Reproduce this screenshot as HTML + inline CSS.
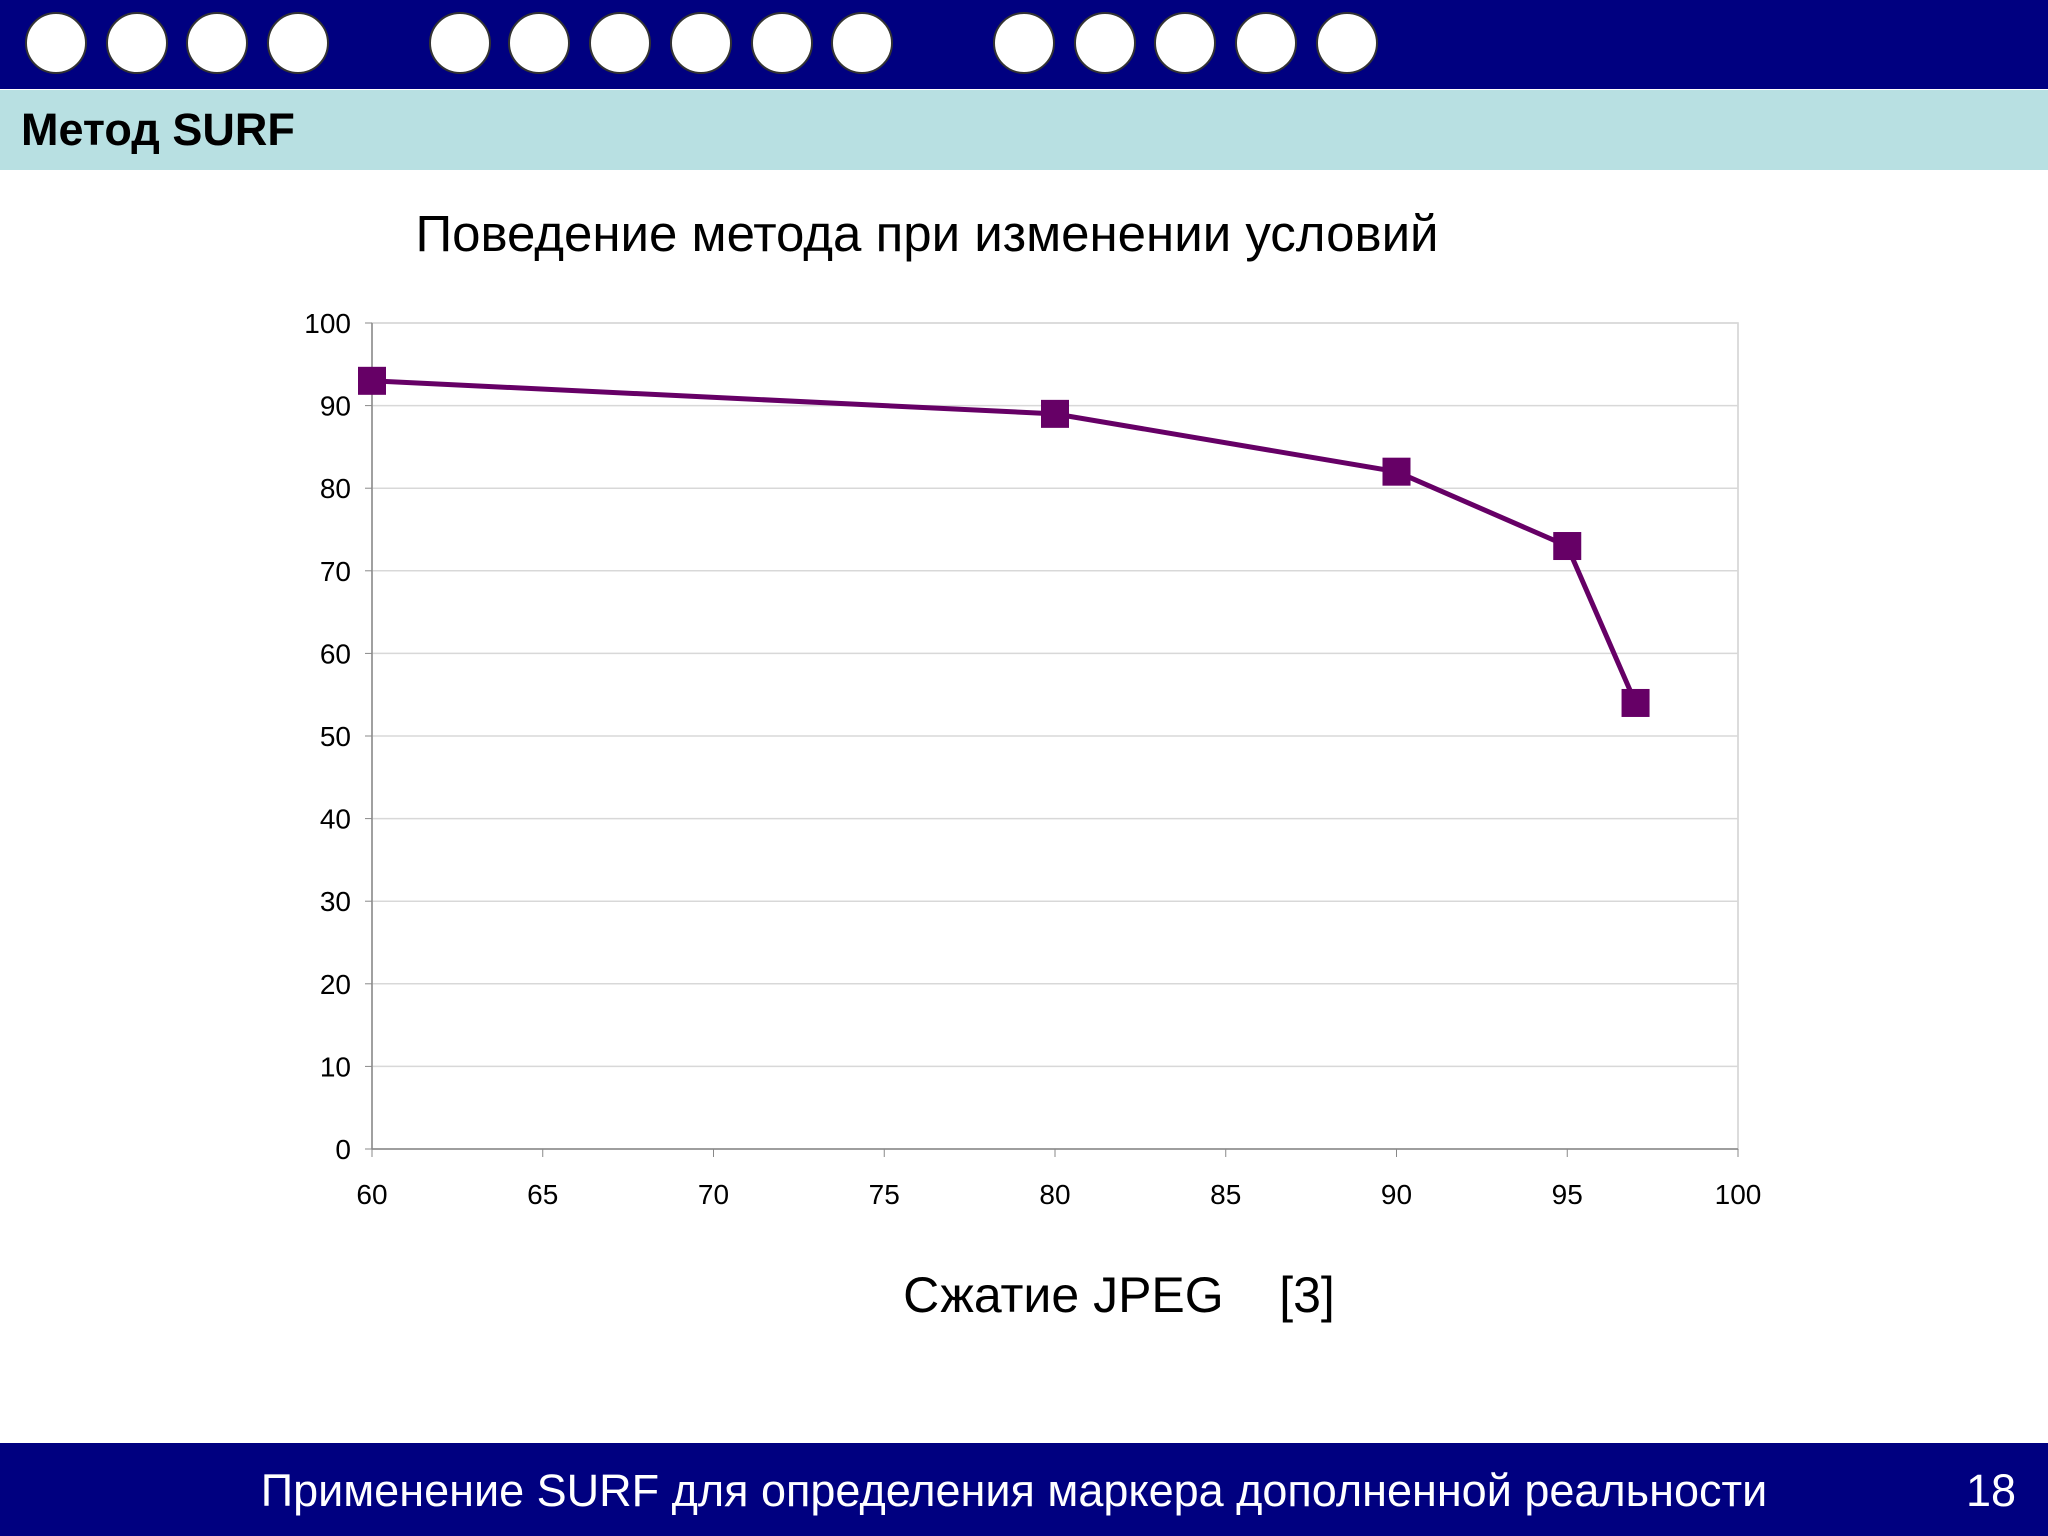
<!DOCTYPE html>
<html><head><meta charset="utf-8"><style>
body{margin:0;width:2048px;height:1536px;background:#fff;overflow:hidden;font-family:"Liberation Sans",sans-serif;position:relative}
.top{position:absolute;left:0;top:0;width:2048px;height:89px;background:#000080}
.circ{position:absolute;top:12px;width:62px;height:62px;border-radius:50%;background:#fff;box-sizing:border-box;border:2px solid #333}
.band{position:absolute;left:0;top:90px;width:2048px;height:80px;background:#b8e0e2}
.band span{position:absolute;left:21px;top:14px;font-weight:bold;font-size:45px;color:#000}
.foot{position:absolute;left:0;top:1443px;width:2048px;height:93px;background:#000080;color:#fff;font-size:45px}
</style></head><body>
<div class="top" id="topbar"></div>
<div class="band"><span>Метод SURF</span></div>
<svg width="2048" height="1536" style="position:absolute;left:0;top:0" id="chart">
<text x="927" y="251" font-size="51" text-anchor="middle" font-family="Liberation Sans">Поведение метода при изменении условий</text>
<text x="1119" y="1312" font-size="50" text-anchor="middle" font-family="Liberation Sans" xml:space="preserve">Сжатие JPEG    [3]</text>
</svg>
<div class="foot">
<span style="position:absolute;left:1014px;top:22px;transform:translateX(-50%);white-space:nowrap">Применение SURF для определения маркера дополненной реальности</span>
<span style="position:absolute;left:1966px;top:22px">18</span>
</div>
<script>
const xTicks=[60,65,70,75,80,85,90,95,100];
const yTicks=[0,10,20,30,40,50,60,70,80,90,100];
const xs=[60,80,90,95,97];
const ys=[93,89,82,73,54];
const ns='http://www.w3.org/2000/svg';
const L=372,R=1738,T=323,B=1149;
const X=v=>L+(v-60)/40*(R-L), Y=v=>B-v/100*(B-T);
const svg=document.getElementById('chart');
function mk(t,a){const e=document.createElementNS(ns,t);for(const k in a)e.setAttribute(k,a[k]);svg.appendChild(e);return e;}
const cx=[56,137,217,298,460,539,620,701,782,862,1024,1105,1185,1266,1347];
const topBar=document.getElementById('topbar');
cx.forEach(c=>{const d=document.createElement('div');d.className='circ';d.style.left=(c-31)+'px';


topBar.appendChild(d);});
const bg=mk('rect',{x:L,y:T,width:R-L,height:B-T,fill:'#fff',stroke:'#d0d0d0','stroke-width':1.5});


yTicks.forEach(v=>{const g=mk('line',{x1:L,x2:R,y1:Y(v),y2:Y(v),stroke:'#d8d8d8','stroke-width':1.5});


mk('line',{x1:L-7,x2:L,y1:Y(v),y2:Y(v),stroke:'#888'});
const t=mk('text',{x:351,y:Y(v)+10,'font-size':28,'text-anchor':'end','font-family':'Liberation Sans'});t.textContent=v;

});
xTicks.forEach(v=>{mk('line',{x1:X(v),x2:X(v),y1:B,y2:B+8,stroke:'#888'});
const t=mk('text',{x:X(v),y:1204,'font-size':28,'text-anchor':'middle','font-family':'Liberation Sans'});t.textContent=v;

});
mk('line',{x1:L,x2:L,y1:T,y2:B,stroke:'#888','stroke-width':1.5});
mk('line',{x1:L,x2:R,y1:B,y2:B,stroke:'#888','stroke-width':1.5});
const ln=mk('polyline',{points:xs.map((x,i)=>X(x)+','+Y(ys[i])).join(' '),fill:'none',stroke:'#660066','stroke-width':5});


xs.forEach((x,i)=>{const m=mk('rect',{x:X(x)-14,y:Y(ys[i])-14,width:28,height:28,fill:'#660066'});

});
</script>
</body></html>
